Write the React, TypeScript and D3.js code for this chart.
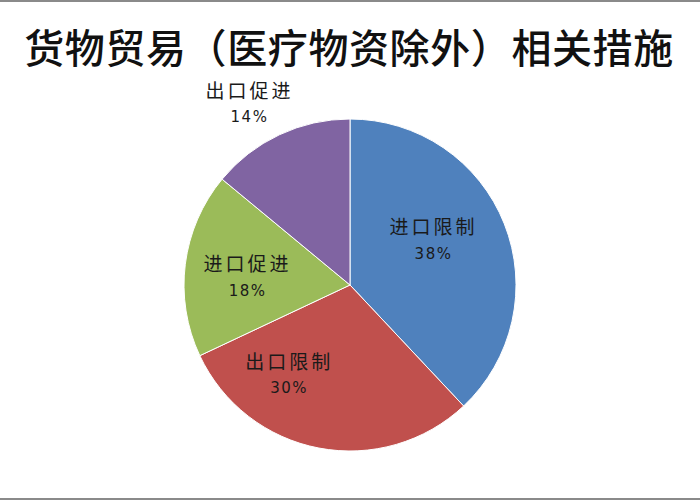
import React from "react";
import * as d3 from "d3";

const categories = ["进口限制", "出口限制", "进口促进", "出口促进"];
const shares = [38, 30, 18, 14];
const colors = ["#4F81BD", "#C0504D", "#9BBB59", "#8064A2"];
const title = "货物贸易（医疗物资除外）相关措施";

// label placement: angle (deg clockwise from top) and radius factor
const labelAngles = [61, 215, 274.5, 330.7];
const labelRadii = [0.565, 0.655, 0.628, 1.256];

const W = 700;
const H = 500;
const cx = 350;
const cy = 285;
const R = 166;

export default function App() {
  const pie = d3
    .pie<number>()
    .sort(null)
    .value((d) => d)
    .startAngle(0)
    .endAngle(2 * Math.PI);
  const arcs = pie(shares);
  const arc = d3.arc<d3.PieArcDatum<number>>().innerRadius(0).outerRadius(R);
  const total = d3.sum(shares);

  return (
    <svg
      width={W}
      height={H}
      style={{ position: "absolute", left: 0, top: 0, background: "#fff" }}
    >
      <rect x={0} y={0} width={W} height={H} fill="#fff" />
      <line x1={0} x2={W} y1={1} y2={1} stroke="#8a8a8a" strokeWidth={2} />
      <line x1={0} x2={W} y1={499} y2={499} stroke="#8a8a8a" strokeWidth={2} />
      <text
        x={349}
        y={46}
        textAnchor="middle"
        dominantBaseline="central"
        fontFamily="'Noto Sans CJK SC', sans-serif"
        fontWeight={500}
        fontSize={40}
        letterSpacing={0.6}
        fill="#111"
      >
        {title}
      </text>
      <g transform={`translate(${cx},${cy})`}>
        {arcs.map((a, i) => (
          <path key={i} d={arc(a) || ""} fill={colors[i]} stroke="#fff" strokeWidth={1} />
        ))}
        {arcs.map((a, i) => {
          const ang = (labelAngles[i] * Math.PI) / 180;
          const r = labelRadii[i] * R;
          const x = r * Math.sin(ang) + 1.5;
          const y = -r * Math.cos(ang);
          const pct = Math.round((a.value / total) * 100) + "%";
          return (
            <g key={"l" + i} transform={`translate(${x},${y})`}>
              <text
                x={0}
                y={-14}
                textAnchor="middle"
                dominantBaseline="central"
                fontFamily="'Noto Sans CJK SC', sans-serif"
                fontSize={19}
                letterSpacing={3}
                fill="#1a1a1a"
              >
                {categories[i]}
              </text>
              <text
                x={0}
                y={14}
                textAnchor="middle"
                dominantBaseline="central"
                fontFamily="'DejaVu Sans', sans-serif"
                fontSize={15}
                letterSpacing={1.5}
                fill="#1a1a1a"
              >
                {pct}
              </text>
            </g>
          );
        })}
      </g>
    </svg>
  );
}
